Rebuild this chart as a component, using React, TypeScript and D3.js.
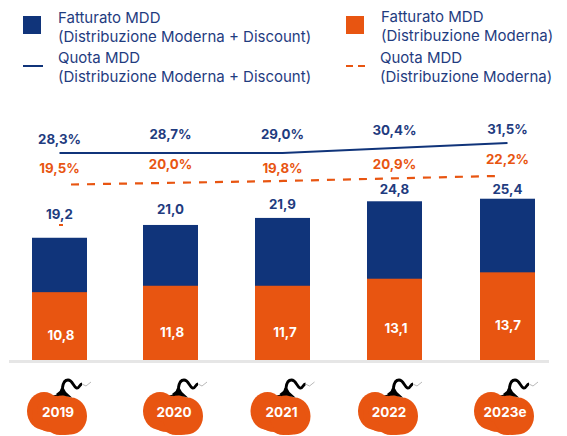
import React from "react";
import * as d3 from "d3";

const years = ["2019", "2020", "2021", "2022", "2023e"];
const totalLabels = ["19,2", "21,0", "21,9", "24,8", "25,4"];
const mddLabels = ["10,8", "11,8", "11,7", "13,1", "13,7"];
const quotaDiscountLabels = ["28,3%", "28,7%", "29,0%", "30,4%", "31,5%"];
const quotaModernLabels = ["19,5%", "20,0%", "19,8%", "20,9%", "22,2%"];
// Heights as drawn in the picture (the source is not strictly to scale)
const totalDrawn = [19.1, 21.1, 22.2, 24.8, 25.2];
const mddDrawn = [10.6, 11.6, 11.6, 12.7, 13.7];
const quotaDiscountDrawn = [28.3, 28.3, 28.3, 29.9, 31.5];
const quotaModernDrawn = [19.5, 20.0, 20.5, 21.2, 21.9];

const NAVY = "#10347a";
const TEXT = "#1f3c7f";
const ORANGE = "#e85511";
const FONT = "Inter, 'Noto Sans', sans-serif";

const x = d3.scaleOrdinal<string, number>().domain(years).range([59.5, 170.5, 282.5, 394.5, 507.5]);
const pumpkinX = d3.scaleOrdinal<string, number>().domain(years).range([57, 173, 280.5, 388, 504]);
const mddLabelX = d3.scaleOrdinal<string, number>().domain(years).range([61, 172, 285, 396, 508]);
const y = d3.scaleLinear().domain([0, 25]).range([360, 200]);
const shareBlue = d3.scaleLinear().domain([28.3, 31.5]).range([153, 143]);
const shareOrange = d3.scaleLinear().domain([19.5, 21.9]).range([184.5, 176]);
const BAR = 55;

const lineBlue = d3.line<number>().x((_, i) => x(years[i])).y((v) => shareBlue(v));
const orangeXs = d3.scaleLinear().domain([0, 4]).range([71, 496]);
const lineOrange = d3.line<number>().x((_, i) => orangeXs(i)).y((v) => shareOrange(v));

function Pumpkin({ cx, label }: { cx: number; label: string }) {
  return (
    <g transform={`translate(${cx},413)`}>
      <g fill={ORANGE}>
        <ellipse cx={-13} cy={-2} rx={17} ry={19} />
        <ellipse cx={3} cy={2} rx={18} ry={20} />
        <ellipse cx={14} cy={3} rx={16} ry={18.5} />
        <ellipse cx={-6} cy={2} rx={19} ry={17} />
        <ellipse cx={2} cy={-3} rx={22} ry={15} />
        <ellipse cx={8} cy={6} rx={18} ry={16} />
      </g>
      <path
        d="M0,-18 C3,-20 5,-21 5.5,-25 C6,-30 7,-33 11,-33 C15.5,-33 16,-27 19.5,-25 C22,-24 22.5,-29 25,-29"
        fill="none" stroke="#000" strokeWidth={2.8}
      />
      <path d="M-4,-17 L3,-20 L5,-28 L9,-21 L15,-15.5 L6,-17.5 Z" fill="#000" />
      <path d="M25,-29 L29,-27 L34,-31" fill="none" stroke="#888" strokeWidth={0.6} />
      <text x={1} y={4} textAnchor="middle" fill="#fff" fontSize={13.5} fontWeight={700} fontFamily={FONT}>{label}</text>
    </g>
  );
}

function LegendText({ tx, y1, lines }: { tx: number; y1: number; lines: string[] }) {
  return (
    <text fontFamily={FONT} fontSize={15} fill={TEXT}>
      {lines.map((t, i) => (
        <tspan key={i} x={tx} y={y1 + i * 19.3}>{t}</tspan>
      ))}
    </text>
  );
}

export default function App() {
  const labelProps = { textAnchor: "middle" as const, fontFamily: FONT, fontSize: 13.3, fontWeight: 700 };
  const blueLabelY = [144, 139, 139, 135, 134];
  const orangeLabelY = [173, 169, 173, 169, 164];
  const totalLabelY = [219, 214, 209, 194, 194];
  const mddLabelY = [340, 337, 337, 333, 330];
  return (
    <svg width={567} height={436} style={{ position: "absolute", left: 0, top: 0 }}>
      <rect x={23} y={16} width={18} height={18} fill={NAVY} />
      <rect x={346} y={16} width={18} height={18} fill={ORANGE} />
      <line x1={23} x2={43} y1={66} y2={66} stroke={NAVY} strokeWidth={2} />
      <line x1={346} x2={365} y1={66} y2={66} stroke={ORANGE} strokeWidth={2} strokeDasharray="7 5" />
      <LegendText tx={58} y1={23} lines={["Fatturato MDD", "(Distribuzione Moderna + Discount)"]} />
      <LegendText tx={381} y1={22} lines={["Fatturato MDD", "(Distribuzione Moderna)"]} />
      <LegendText tx={58} y1={63} lines={["Quota MDD", "(Distribuzione Moderna + Discount)"]} />
      <LegendText tx={380} y1={63} lines={["Quota MDD", "(Distribuzione Moderna)"]} />

      {years.map((d, i) => (
        <g key={d}>
          <rect x={x(d) - BAR / 2} y={y(totalDrawn[i])} width={BAR} height={360 - y(totalDrawn[i])} fill={NAVY} />
          <rect x={x(d) - BAR / 2} y={y(mddDrawn[i])} width={BAR} height={360 - y(mddDrawn[i])} fill={ORANGE} />
          <text {...labelProps} x={mddLabelX(d)} y={mddLabelY[i]} fill="#fff">{mddLabels[i]}</text>
          <text {...labelProps} x={x(d)} y={totalLabelY[i]} fill={TEXT}>{totalLabels[i]}</text>
          <text {...labelProps} x={x(d)} y={blueLabelY[i]} fill={TEXT}>{quotaDiscountLabels[i]}</text>
          <text {...labelProps} x={x(d)} y={orangeLabelY[i]} fill={ORANGE}>{quotaModernLabels[i]}</text>
        </g>
      ))}
      <line x1={59} x2={63} y1={225} y2={225} stroke={ORANGE} strokeWidth={2} />
      <rect x={9} y={360} width={540} height={3} fill="#e6e6e6" />
      <path d={lineBlue(quotaDiscountDrawn)!} fill="none" stroke={NAVY} strokeWidth={2} />
      <path d={lineOrange(quotaModernDrawn)!} fill="none" stroke={ORANGE} strokeWidth={2.2} strokeDasharray="8 8" />
      {years.map((d) => (
        <Pumpkin key={d} cx={pumpkinX(d)} label={d} />
      ))}
    </svg>
  );
}
